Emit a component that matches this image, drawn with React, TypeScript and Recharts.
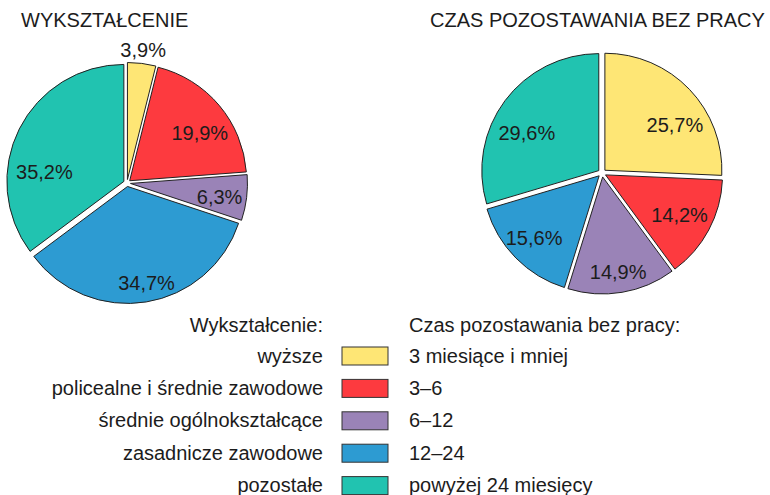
import React from "react"
import { PieChart, Pie, Sector } from "recharts"

const eduLabels = ["wyższe", "policealne i średnie zawodowe", "średnie ogólnokształcące", "zasadnicze zawodowe", "pozostałe"]
const eduValues = [3.9, 19.9, 6.3, 34.7, 35.2]

const timeLabels = ["3 miesiące i mniej", "3–6", "6–12", "12–24", "powyżej 24 miesięcy"]
const timeValues = [25.7, 14.2, 14.9, 15.6, 29.6]

const colors = ["#FEE675", "#FD3A3F", "#9A83B7", "#2D9BD2", "#21C3B0"]

// hand placement tweaks for the percentage labels (px)
const eduNudge = [[5, -42], [3, 9], [2, 3], [5, 10], [-1, 30]]
const timeNudge = [[7, 15], [-3, -1], [1, 9], [-3, 1], [-2, 15]]

const FONT = "'Liberation Sans', Arial, sans-serif"
const TEXT = "#1c1c1c"
const FS = 20

const fmt = (v: number) => v.toFixed(1).replace(".", ",") + "%"

const sliceRenderer = (nudge: number[][], explode: number) => (props: any) => {
  const { cx, cy, midAngle, startAngle, endAngle, outerRadius, index, value } = props
  const rad = (-midAngle * Math.PI) / 180
  const ox = Math.cos(rad) * explode
  const oy = Math.sin(rad) * explode
  const lr = outerRadius * 0.78
  const lx = cx + Math.cos(rad) * lr + nudge[index][0]
  const ly = cy + Math.sin(rad) * lr + nudge[index][1]
  return (
    <g key={"slice-" + index}>
      <Sector
        cx={cx + ox}
        cy={cy + oy}
        innerRadius={0}
        outerRadius={outerRadius}
        startAngle={startAngle}
        endAngle={endAngle}
        fill={colors[index]}
        stroke="#222"
        strokeWidth={1}
      />
      <text x={lx} y={ly} textAnchor="middle" dominantBaseline="central" fill={TEXT} fontSize={FS} fontFamily={FONT}>
        {fmt(value)}
      </text>
    </g>
  )
}

export default function App() {
  const eduData = eduLabels.map((name, i) => ({ name, value: eduValues[i] }))
  const timeData = timeLabels.map((name, i) => ({ name, value: timeValues[i] }))

  return (
    <div style={{ position: "absolute", left: 0, top: 0, width: 770, height: 495, background: "#fff" }}>
      <PieChart width={770} height={495} margin={{ top: 0, right: 0, bottom: 0, left: 0 }}>
        <Pie
          data={eduData}
          dataKey="value"
          cx={127}
          cy={183}
          outerRadius={117}
          startAngle={90}
          endAngle={-270}
          fill="transparent"
          stroke="none"
          labelLine={false}
          label={sliceRenderer(eduNudge, 3.5)}
          isAnimationActive={false}
        />
        <Pie
          data={timeData}
          dataKey="value"
          cx={602}
          cy={173}
          outerRadius={117}
          startAngle={90}
          endAngle={-270}
          fill="transparent"
          stroke="none"
          labelLine={false}
          label={sliceRenderer(timeNudge, 4)}
          isAnimationActive={false}
        />
      </PieChart>
      <svg width={770} height={495} style={{ position: "absolute", left: 0, top: 0, pointerEvents: "none" }}>
        <g fontFamily={FONT} fontSize={FS} fill={TEXT}>
          <text x={21} y={27}>WYKSZTAŁCENIE</text>
          <text x={430} y={27}>CZAS POZOSTAWANIA BEZ PRACY</text>
          <text x={323} y={331.5} textAnchor="end">Wykształcenie:</text>
          <text x={409} y={331.5}>Czas pozostawania bez pracy:</text>
          {eduLabels.map((label, i) => {
            const top = 347 + i * 32.4
            return (
              <g key={label}>
                <text x={323} y={top + 15.5} textAnchor="end">{label}</text>
                <rect x={342} y={top} width={46} height={18} fill={colors[i]} stroke="#333" strokeWidth={1} />
                <text x={409} y={top + 15.5}>{timeLabels[i]}</text>
              </g>
            )
          })}
        </g>
      </svg>
    </div>
  )
}
